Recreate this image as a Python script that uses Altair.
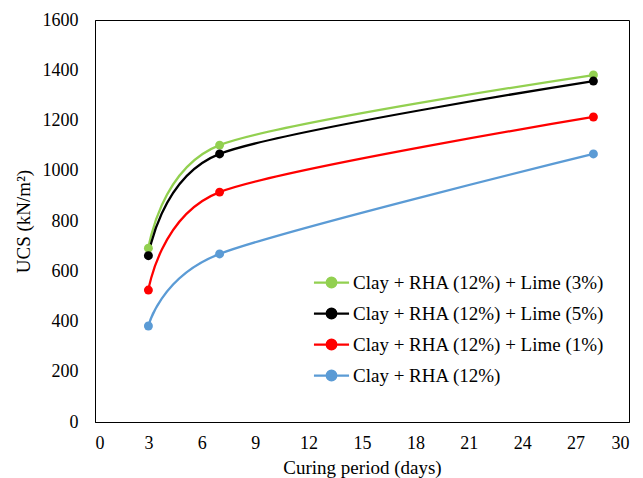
import altair as alt
import pandas as pd

# Curing time (days) and unconfined compressive strength (kN/m²)
days = [3, 7, 28]
series = [
    "Clay + RHA (12%) + Lime (3%)",
    "Clay + RHA (12%) + Lime (5%)",
    "Clay + RHA (12%) + Lime (1%)",
    "Clay + RHA (12%)",
]
ucs_lime3 = [692, 1102, 1381]
ucs_lime5 = [662, 1067, 1357]
ucs_lime1 = [525, 915, 1214]
ucs_rha = [382, 669, 1067]
colors = ["#92D050", "#000000", "#FF0000", "#5B9BD5"]

# rows in drawing order (bottom series first so black sits on top of green)
values = dict(zip(series, [ucs_lime3, ucs_lime5, ucs_lime1, ucs_rha]))
draw_order = [series[3], series[2], series[0], series[1]]
rows = []
for name in draw_order:
    for d, v in zip(days, values[name]):
        rows.append({"days": d, "ucs": v, "mix": name})
df = pd.DataFrame(rows)

FONT = "serif"

# legend symbol: short line with a dot in the middle
sym = ("M-1.17,0L1.17,0"
       "M0.32,0A0.32,0.32,0,1,1,-0.32,0A0.32,0.32,0,1,1,0.32,0Z")

color = alt.Color(
    "mix:N",
    scale=alt.Scale(domain=series, range=colors),
    legend=alt.Legend(
        title=None,
        orient="none",
        legendX=220,
        legendY=246,
        symbolType=sym,
        symbolSize=900,
        symbolStrokeWidth=2.25,
        labelFont=FONT,
        labelFontSize=19,
        labelColor="#000000",
        labelOffset=5,
        rowPadding=4,
        labelLimit=400,
    ),
)

x = alt.X(
    "days:Q",
    title="Curing period (days)",
    scale=alt.Scale(domain=[0, 30], nice=False),
    axis=alt.Axis(values=list(range(0, 31, 3)), grid=False, ticks=False,
                  labelPadding=12, titlePadding=6),
)
y = alt.Y(
    "ucs:Q",
    title="UCS  (kN/m²)",
    scale=alt.Scale(domain=[0, 1600], nice=False),
    axis=alt.Axis(values=list(range(0, 1601, 200)), grid=False, ticks=False,
                  format="d", labelPadding=17, titleX=-62),
)

base = alt.Chart(df).encode(x=x, y=y, color=color)
lines = base.mark_line(interpolate="cardinal", tension=0.2, strokeWidth=2.25)
points = base.mark_point(filled=True, size=80, opacity=1)

chart = (
    alt.layer(lines, points)
    .properties(
        width=534,
        height=402,
        autosize=alt.AutoSizeParams(type="none"),
        padding={"left": 95, "top": 20, "right": 14, "bottom": 56},
        background="white",
    )
    .configure(font=FONT)
    .configure_view(stroke="#000000", strokeWidth=1)
    .configure_axis(
        domainColor="#000000",
        domainWidth=1,
        labelFont=FONT,
        labelFontSize=18,
        labelColor="#000000",
        titleFont=FONT,
        titleFontSize=19,
        titleFontWeight="normal",
        titleColor="#000000",
    )
)

chart.save("out.html", embed_options={"renderer": "svg", "actions": False})
